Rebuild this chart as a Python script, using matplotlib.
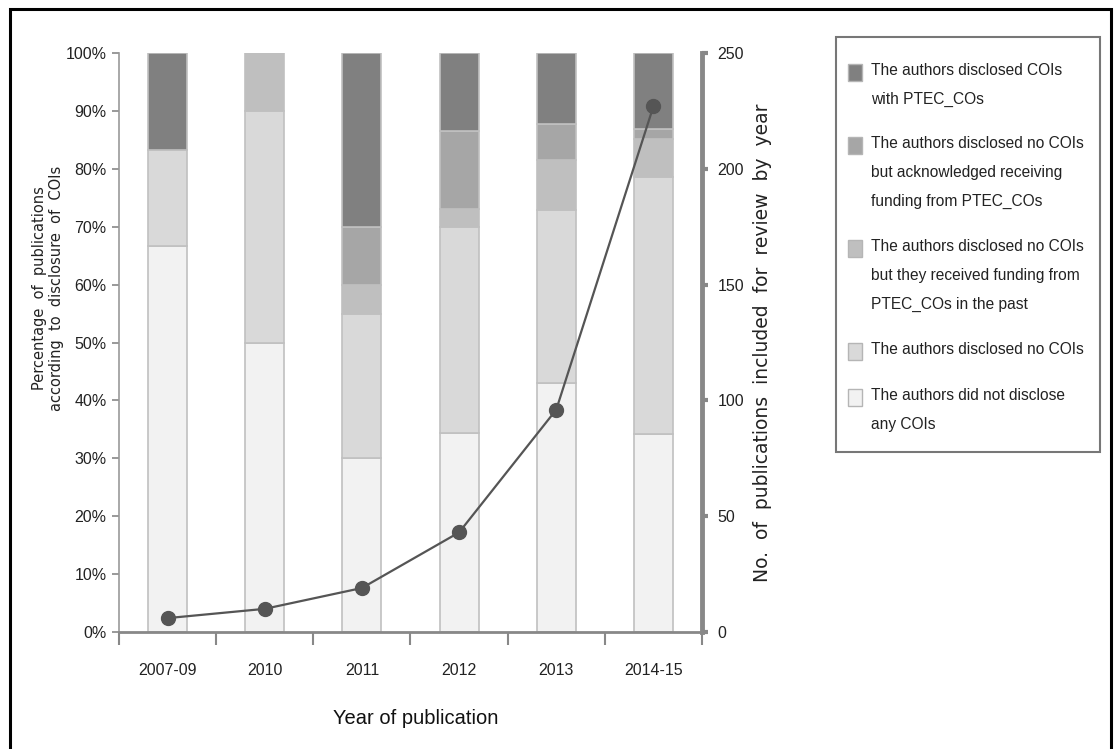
import numpy as np
import matplotlib
matplotlib.use("Agg")
import matplotlib.pyplot as plt
from matplotlib.patches import Rectangle

plt.rcParams['font.family'] = ['Liberation Sans', 'DejaVu Sans']

W, H = 1115, 749

years = ['2007-09', '2010', '2011', '2012', '2013', '2014-15']

# percentages per category (bottom to top of each bar)
not_disclosed = [66.7, 50.0, 30.0, 34.3, 43.0, 34.2]
no_cois = [16.6, 40.0, 25.0, 35.6, 29.9, 44.4]
past_funding = [0.0, 10.0, 5.0, 3.1, 8.6, 6.5]
ack_funding = [0.0, 0.0, 10.0, 13.6, 6.2, 1.8]
with_cois = [16.7, 0.0, 30.0, 13.4, 12.3, 13.1]

# number of publications included by year
n_pubs = [6, 10, 19, 43, 96, 227]

series = [
    (not_disclosed, '#f2f2f2', 'The authors did not disclose\nany COIs'),
    (no_cois, '#d9d9d9', 'The authors disclosed no COIs'),
    (past_funding, '#bfbfbf', 'The authors disclosed no COIs\nbut they received funding from\nPTEC_COs in the past'),
    (ack_funding, '#a6a6a6', 'The authors disclosed no COIs\nbut acknowledged receiving\nfunding from PTEC_COs'),
    (with_cois, '#808080', 'The authors disclosed COIs\nwith PTEC_COs'),
]


def fx(px):
    return px / W


def fy(py):
    return 1 - py / H


fig = plt.figure(figsize=(11.15, 7.49), dpi=100)
ax = fig.add_axes([0.1067, 0.1562, 0.5229, 0.7730])

x = np.arange(len(years))
bottom = np.zeros(len(years))
for vals, col, lab in series:
    vals = np.array(vals)
    ax.bar(x, vals, 0.40, bottom=bottom, color=col, edgecolor='#c0c0c0',
           linewidth=1.2, zorder=2)
    bottom += vals

ax.set_xlim(-0.5, 5.5)
ax.set_ylim(0, 100)
ax.set_yticks(np.arange(0, 101, 10))
ax.set_yticklabels([f'{v}%' for v in range(0, 101, 10)])
ax.set_xticks(x)
ax.set_xticklabels(years)
ax.set_xticks(np.arange(-0.5, 5.6, 1), minor=True)
ax.tick_params(axis='x', which='major', length=0, pad=22, labelsize=11.5, labelcolor='#222222')
ax.tick_params(axis='x', which='minor', length=9, width=1.5, color='#888888', direction='out')
ax.tick_params(axis='y', length=5, width=1.2, color='#888888', pad=4, labelsize=11.5,
               labelcolor='#222222')

for s in ['top', 'right']:
    ax.spines[s].set_visible(False)
ax.spines['left'].set_color('#999999')
ax.spines['left'].set_linewidth(1.2)
ax.spines['bottom'].set_color('#888888')
ax.spines['bottom'].set_linewidth(2)

ax2 = ax.twinx()
for s in ['top', 'left', 'bottom']:
    ax2.spines[s].set_visible(False)
ax2.spines['right'].set_color('#888888')
ax2.spines['right'].set_linewidth(3.5)
ax2.plot(x, n_pubs, color='#555555', linewidth=1.6, marker='o', markersize=10,
         markerfacecolor='#555555', markeredgecolor='#555555', zorder=5)
ax2.set_ylim(0, 250)
ax2.set_yticks(np.arange(0, 251, 50))
ax2.set_yticklabels([str(v) for v in range(0, 251, 50)])
ax2.tick_params(axis='y', length=4, width=3, color='#888888', pad=7, labelsize=11.5,
                labelcolor='#222222')

fig.text(0.3725, 0.041, 'Year of publication', fontsize=14.5, ha='center', va='center',
         color='#111111')
fig.text(0.043, 0.615, 'Percentage  of  publications\naccording  to  disclosure  of  COIs',
         family='DejaVu Sans', fontsize=10.5, rotation=90, ha='center', va='center',
         color='#222222', linespacing=1.15)
fig.text(0.684, 0.543, 'No.  of  publications  included  for  review  by  year',
         family='DejaVu Sans', fontsize=13.5, rotation=90, ha='center', va='center',
         color='#222222')

# legend drawn by hand so each swatch sits by the first line of its label
fig.patches.append(Rectangle((fx(836), fy(452)), fx(1100) - fx(836), fy(37) - fy(452),
                             transform=fig.transFigure, facecolor='white',
                             edgecolor='#777777', linewidth=1.5))
first_baselines = [75, 148, 251, 354, 400]
for (vals, col, lab), yb in zip(series[::-1], first_baselines):
    fig.patches.append(Rectangle((fx(848), fy(yb + 6)), fx(14), 17 / H,
                                 transform=fig.transFigure, facecolor=col,
                                 edgecolor='#b5b5b5', linewidth=1.0))
    for i, line in enumerate(lab.split('\n')):
        fig.text(fx(871), fy(yb + 29 * i), line, fontsize=11.2, color='#222222',
                 ha='left', va='baseline')

fig.patches.append(Rectangle((0.009, -0.02), 0.9874, 1.008, transform=fig.transFigure,
                             fill=False, edgecolor='black', linewidth=2.2))

fig.savefig('out.png', dpi=100)
